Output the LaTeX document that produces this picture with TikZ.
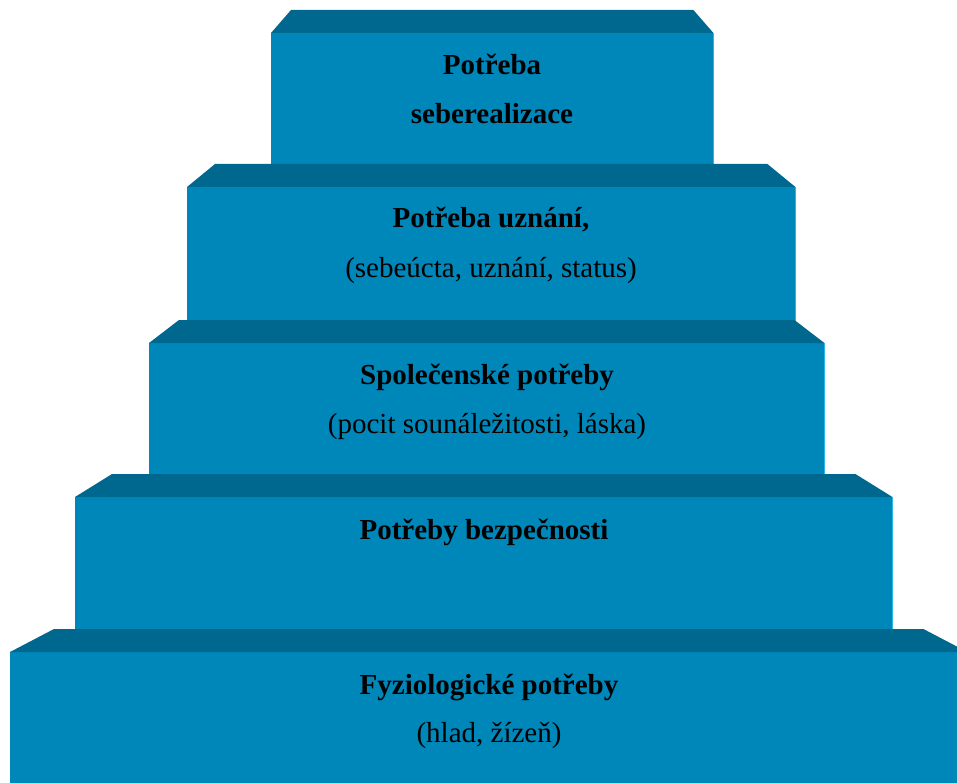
\documentclass[tikz,border=0pt]{standalone}
\usepackage{fontspec}
\setmainfont{Liberation Serif}
\usepackage{xcolor}
\usepackage{tikz}
\usetikzlibrary{calc}

\definecolor{celo}{HTML}{0087BA}
\definecolor{vrch}{HTML}{00688F}
\definecolor{hrana}{HTML}{29B6E8}

\tikzset{
	stupen/.style={fill=celo, draw=none, anchor=north west, inner sep=0pt},
	vrsek/.style={fill=vrch},
	okraj/.style={draw=hrana, line width=1.5pt},
	nadpis/.style={font=\fontsize{29}{35}\selectfont\bfseries, anchor=base, inner sep=0pt},
	popis/.style={font=\fontsize{29}{35}\selectfont, anchor=base, inner sep=0pt}
}

\begin{document}
\begin{tikzpicture}[x=1pt, y=-1pt]
		\clip (0,0) rectangle (957,783);
		
		% Stupne pyramidy: cislo/x/y/sirka/vyska/zkoseni
		\foreach \n/\x/\y/\w/\h/\d in {1/271/33/442/132/20, 2/187/187/608/134/28,
			3/149/343/675/131/30, 4/75/497/817/132/37, 5/10/652/957/131/44}{
			\node[stupen, minimum width=\w pt, minimum height=\h pt] (s\n) at (\x,\y) {};
			\draw[okraj] (s\n.north east) -- (s\n.south east);
		}
		\foreach \n/\d in {1/20, 2/28, 3/30, 4/37, 5/44}{
			\fill[vrsek] (s\n.north west) -- ++(\d,-23)
			-- ($(s\n.north east)+(-\d,-23)$) -- (s\n.north east) -- cycle;
		}
		
		% Popisky
		\node[nadpis] (t1) at (492,75) {Potřeba};
		\node[nadpis] (t1b) at (492,124) {seberealizace};
		\node[nadpis] (t2) at (491,228) {Potřeba uznání,};
		\node[popis] (t2b) at (491,277) {(sebeúcta, uznání, status)};
		\node[nadpis] (t3) at (487,384) {Společenské potřeby};
		\node[popis] (t3b) at (487,433) {(pocit sounáležitosti, láska)};
		\node[nadpis] (t4) at (484,539) {Potřeby bezpečnosti};
		\node[nadpis] (t5) at (489,694) {Fyziologické potřeby};
		\node[popis] (t5b) at (489,742) {(hlad, žízeň)};
	\end{tikzpicture}
\end{document}
